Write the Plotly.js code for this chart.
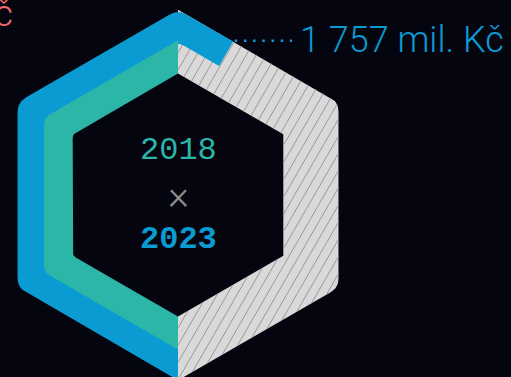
<!DOCTYPE html>
<html><head><meta charset="utf-8">
<script src="https://cdn.plot.ly/plotly-3.0.1.min.js"></script>
<style>html,body{margin:0;padding:0;background:#050510;overflow:hidden}#chart{width:511px;height:377px}</style>
</head><body><div id="chart"></div>
<script>
// ---- data ----
const years = ['2018', '2023'];
const values = [1583, 1757];          // mil. Kč
const maxValue = 3166;                // full hexagon
const valueLabels = ['1 757 mil. Kč'];
const otherLabels = ['Kč'];

// ---- geometry / style ----
const W = 511, H = 377;
const cx = 178, cy = 195;
const R_OUT = 185.3, R_MID = 154.7, R_IN = 121.6;
const BG = '#050510', BLUE = '#0a9bd2', TEAL = '#2bb6a8', GREY = '#d9d9d9', HATCH = '#999999';

function vtx(k, R) { const a = (90 + 60 * k) * Math.PI / 180; return [cx + R * Math.cos(a), cy + R * Math.sin(a)]; }
function ringPoint(p, R, Lref) {
  let k = Math.floor(p + 1e-9), f = p - k;
  if (f < 1e-6) return vtx(k, R);
  const a = vtx(k, R), b = vtx(k + 1, R);
  const m = [(a[0] + b[0]) / 2, (a[1] + b[1]) / 2];
  const d = [(b[0] - a[0]) / R, (b[1] - a[1]) / R];
  let s = (f - 0.5) * Lref; s = Math.max(-R / 2, Math.min(R / 2, s));
  return [m[0] + s * d[0], m[1] + s * d[1]];
}
function unit(A, V) { const dx = A[0] - V[0], dy = A[1] - V[1], l = Math.hypot(dx, dy); return [dx / l, dy / l]; }
function roundPath(pts, r) {
  if (r <= 0) return pts.slice();
  const out = [pts[0]];
  for (let j = 1; j < pts.length - 1; j++) {
    const V = pts[j], ua = unit(pts[j - 1], V), ub = unit(pts[j + 1], V);
    const P1 = [V[0] + r * ua[0], V[1] + r * ua[1]], P2 = [V[0] + r * ub[0], V[1] + r * ub[1]];
    for (let i = 0; i <= 8; i++) {
      const t = i / 8, u = 1 - t;
      out.push([u * u * P1[0] + 2 * u * t * V[0] + t * t * P2[0], u * u * P1[1] + 2 * u * t * V[1] + t * t * P2[1]]);
    }
  }
  out.push(pts[pts.length - 1]);
  return out;
}
function band(p0, p1, Ro, Ri, rO, rI, Lref) {
  const L = Lref || (Ro + Ri) / 2;
  const outer = [ringPoint(p0, Ro, L)], inner = [ringPoint(p0, Ri, L)];
  for (let k = Math.floor(p0 + 1e-9) + 1; k < p1 - 1e-6; k++) { outer.push(vtx(k, Ro)); inner.push(vtx(k, Ri)); }
  outer.push(ringPoint(p1, Ro, L)); inner.push(ringPoint(p1, Ri, L));
  const pts = roundPath(outer, rO).concat(roundPath(inner, rI).reverse());
  pts.push(pts[0]);
  return pts;
}
function polyTrace(pts, color) {
  return { type: 'scatter', mode: 'lines', x: pts.map(p => p[0]), y: pts.map(p => p[1]),
    fill: 'toself', fillcolor: color, line: { width: 0, color: color }, hoverinfo: 'skip' };
}
function hatch(poly, spacing) {
  const d = [0.5, -Math.sqrt(3) / 2], n = [Math.sqrt(3) / 2, 0.5];
  const cs = poly.map(p => p[0] * n[0] + p[1] * n[1]);
  const cmin = Math.min(...cs), cmax = Math.max(...cs);
  const xs = [], ys = [];
  for (let c = Math.ceil(cmin / spacing) * spacing; c <= cmax; c += spacing) {
    const O = [c * n[0], c * n[1]], ts = [];
    for (let i = 0; i < poly.length - 1; i++) {
      const A = poly[i], B = poly[i + 1];
      const e = [B[0] - A[0], B[1] - A[1]];
      const den = d[0] * e[1] - d[1] * e[0];
      if (Math.abs(den) < 1e-12) continue;
      const w = [A[0] - O[0], A[1] - O[1]];
      const t = (w[0] * e[1] - w[1] * e[0]) / den;
      const u = (w[0] * d[1] - w[1] * d[0]) / den;
      if (u >= 0 && u < 1) ts.push(t);
    }
    ts.sort((a, b) => a - b);
    for (let i = 0; i + 1 < ts.length; i += 2) {
      xs.push(O[0] + ts[i] * d[0], O[0] + ts[i + 1] * d[0], null);
      ys.push(O[1] + ts[i] * d[1], O[1] + ts[i + 1] * d[1], null);
    }
  }
  return { type: 'scatter', mode: 'lines', x: xs, y: ys, line: { width: 1, color: HATCH }, hoverinfo: 'skip' };
}

const toP = v => v / maxValue * 6;
const Lblue = (R_OUT + R_MID) / 2;
const greyPoly = band(3, 6, R_OUT, R_IN, 9, 0);
const bluePoly = band(0, toP(values[1]), R_OUT, R_MID - 2, 10, 6, Lblue);
const tealPoly = band(0, toP(values[0]), R_MID, R_IN, 7, 4);
const endPt = ringPoint(toP(values[1]), R_OUT, Lblue);

const traces = [
  polyTrace(greyPoly, GREY),
  hatch(greyPoly, 8.6),
  polyTrace(bluePoly, BLUE),
  polyTrace(tealPoly, TEAL),
  { type: 'scatter', mode: 'lines', x: [endPt[0] + 1.5, 292], y: [40.8, 40.8],
    line: { color: BLUE, width: 2.5, dash: '2.5px,6.7px' }, hoverinfo: 'skip' }
];

const monoFont = 'Liberation Mono';
const annotations = [
  { x: 298, y: 40, text: valueLabels[0], xanchor: 'left', yanchor: 'middle',
    font: { family: 'Roboto', weight: 300, size: 36, color: BLUE } },
  { x: 15, y: 14, text: otherLabels[0], xanchor: 'right', yanchor: 'middle',
    font: { family: 'Roboto', weight: 300, size: 36, color: '#f06b6b' } },
  { x: cx, y: 150, text: years[0], xanchor: 'center', yanchor: 'middle',
    font: { family: monoFont, size: 32, color: TEAL } },
  { x: cx, y: 195, text: '×', xanchor: 'center', yanchor: 'middle',
    font: { family: 'Roboto', weight: 300, size: 40, color: '#8c8c8c' } },
  { x: cx, y: 239, text: '<b>' + years[1] + '</b>', xanchor: 'center', yanchor: 'middle',
    font: { family: monoFont, size: 32, color: BLUE } }
].map(a => Object.assign({ xref: 'x', yref: 'y', showarrow: false }, a));

const layout = {
  width: W, height: H, margin: { l: 0, r: 0, t: 0, b: 0, pad: 0 },
  paper_bgcolor: BG, plot_bgcolor: BG, showlegend: false,
  xaxis: { range: [0, W], visible: false, fixedrange: true },
  yaxis: { range: [H, 0], visible: false, fixedrange: true },
  annotations: annotations
};
Plotly.newPlot('chart', traces, layout, { staticPlot: true, displayModeBar: false });
</script></body></html>
